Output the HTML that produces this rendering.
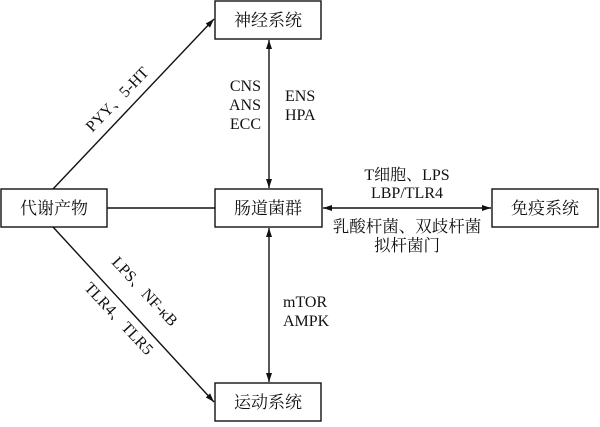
<!DOCTYPE html>
<html><head><meta charset="utf-8"><style>
body{margin:0;background:#fff}
svg text{font-family:"Liberation Serif","Noto Serif CJK SC",serif;font-size:16px;fill:#111}
</style></head><body>
<svg width="600" height="422" viewBox="0 0 600 422" xmlns="http://www.w3.org/2000/svg">
<defs><marker id="a" markerWidth="10" markerHeight="8" refX="9" refY="4" orient="auto-start-reverse" markerUnits="userSpaceOnUse"><path d="M0,1 L9,4 L0,7 Z" fill="#111"/></marker></defs>
<g fill="none" stroke="#111" stroke-width="1.4">
<rect x="1" y="189" width="106" height="38"/>
<rect x="215" y="1" width="106" height="38"/>
<rect x="215" y="189" width="107" height="38"/>
<rect x="492" y="189" width="106" height="38"/>
<rect x="215" y="383" width="106" height="38"/>
<line x1="107" y1="208" x2="215" y2="208"/>
<line x1="269" y1="40" x2="269" y2="188" marker-start="url(#a)" marker-end="url(#a)"/>
<line x1="269" y1="228" x2="269" y2="382" marker-start="url(#a)" marker-end="url(#a)"/>
<line x1="323" y1="208" x2="491" y2="208" marker-start="url(#a)" marker-end="url(#a)"/>
<line x1="53" y1="189" x2="214" y2="19" marker-end="url(#a)"/>
<line x1="53" y1="227" x2="214" y2="402" marker-end="url(#a)"/>
</g>
<g text-anchor="middle">
<text x="54" y="214" style="font-size:17px">代谢产物</text>
<text x="268" y="26" style="font-size:17px">神经系统</text>
<text x="268" y="214" style="font-size:17px">肠道菌群</text>
<text x="545" y="214" style="font-size:17px">免疫系统</text>
<text x="268" y="408" style="font-size:17px">运动系统</text>
<text x="407" y="180">T细胞、LPS</text>
<text x="407" y="198">LBP/TLR4</text>
<text x="407" y="232" style="font-size:16.5px">乳酸杆菌、双歧杆菌</text>
<text x="407" y="251" style="font-size:16.5px">拟杆菌门</text>
</g>
<g text-anchor="end">
<text x="261" y="91">CNS</text>
<text x="261" y="110">ANS</text>
<text x="261" y="129">ECC</text>
</g>
<text x="285" y="101">ENS</text>
<text x="285" y="120">HPA</text>
<text x="283" y="307">mTOR</text>
<text x="283" y="326">AMPK</text>
<text x="0" y="0" text-anchor="middle" transform="translate(121,103) rotate(-46)">PYY、5-HT</text>
<text x="0" y="0" text-anchor="middle" transform="translate(141,295) rotate(47)">LPS、NF-κB</text>
<text x="0" y="0" text-anchor="middle" transform="translate(115,322) rotate(47)">TLR4、TLR5</text>
</svg>
</body></html>
